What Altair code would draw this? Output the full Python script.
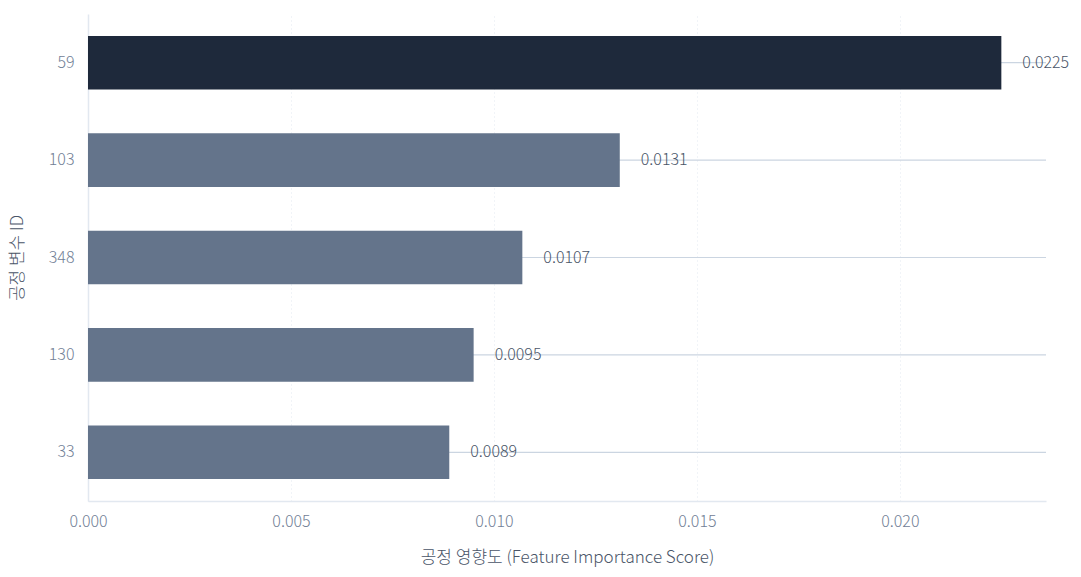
import altair as alt
import pandas as pd

ids = ["59", "103", "348", "130", "33"]
scores = [0.0225, 0.0131, 0.0107, 0.0095, 0.0089]
highlight = [True, False, False, False, False]
labels = ["0.0225", "0.0131", "0.0107", "0.0095", "0.0089"]
x_max = 0.0236

df = pd.DataFrame({"id": ids, "score": scores, "top": highlight, "label": labels, "end": [x_max] * len(ids)})

FONT = "Noto Sans CJK KR"
W = 300

x_scale = alt.Scale(domain=[0, x_max], nice=False, zero=True)
y_enc = alt.Y("id:N", sort=ids, title="공정 변수 ID",
              scale=alt.Scale(paddingInner=0.45),
              axis=alt.Axis(labelPadding=14, titlePadding=22, domainColor="#e2e8f0", domainWidth=1.5,
                            ticks=False, labelColor="#718096", titleColor="#4a5568",
                            labelFontSize=16, titleFontSize=17, titleFontWeight=W, labelFontWeight=W,
                            labelFont=FONT, titleFont=FONT, grid=False))

rules = alt.Chart(df).mark_rule(color="#cbd5e1", strokeWidth=1.2).encode(
    y=y_enc,
    x=alt.X("zero:Q", scale=x_scale),
    x2="end:Q",
).transform_calculate(zero="0")

bars = alt.Chart(df).mark_bar().encode(
    y=y_enc,
    x=alt.X("score:Q", scale=x_scale, title="공정 영향도 (Feature Importance Score)",
            axis=alt.Axis(format=".3f", values=[0, 0.005, 0.01, 0.015, 0.02], ticks=False, labelFlush=False,
                          labelPadding=12, titlePadding=20, domainColor="#e2e8f0", domainWidth=1.5,
                          gridColor="#e2e8f0", gridDash=[1, 3], gridWidth=1,
                          labelColor="#718096", titleColor="#4a5568",
                          labelFontSize=16, titleFontSize=17, titleFontWeight=W, labelFontWeight=W,
                          labelFont=FONT, titleFont=FONT)),
    color=alt.Color("top:N", scale=alt.Scale(domain=[True, False], range=["#1e293b", "#64748b"]), legend=None),
)

text = alt.Chart(df).mark_text(align="left", baseline="middle", dx=21, font=FONT, fontSize=16, fontWeight=W,
                               color="#4a5568").encode(
    y=y_enc,
    x=alt.X("score:Q", scale=x_scale),
    text="label:N",
)

chart = alt.layer(rules, bars, text).properties(
    width=958, height=487,
    autosize=alt.AutoSizeParams(type="none"),
    padding={"left": 88, "top": 14, "right": 35, "bottom": 76},
    background="white",
).configure_view(stroke=None)

chart.save("out.html", embed_options={"renderer": "svg", "actions": False})
